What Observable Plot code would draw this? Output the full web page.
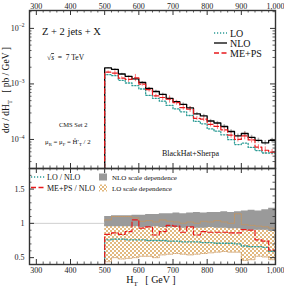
<!DOCTYPE html>
<html><head><meta charset="utf-8">
<script src="https://cdn.jsdelivr.net/npm/d3@7"></script>
<script src="https://cdn.jsdelivr.net/npm/@observablehq/plot@0.6"></script>
<style>
body{margin:0;background:#fff;}
#wrap{position:relative;width:284px;height:287px;}
#wrap svg{display:block;overflow:visible;}
</style></head><body><div id="wrap"></div>
<script>
// ---- data ----
const binLow = [500,520,540,560,580,600,620,640,660,680,700,720,740,760,780,800,820,840,860,880,900,920,940,960,980];
const binWidth = 20;
const nlo  = [1.94e-3,1.83e-3,1.51e-3,1.37e-3,1.23e-3,1.06e-3,8.3e-4,7.3e-4,6.5e-4,5.5e-4,4.8e-4,4.3e-4,3.7e-4,2.9e-4,2.65e-4,2.15e-4,1.98e-4,1.71e-4,1.39e-4,1.16e-4,1.28e-4,1.09e-4,9.6e-5,8.7e-5,9.6e-5];
const lo   = [1.47e-3,1.41e-3,1.16e-3,1.04e-3,9.3e-4,8.1e-4,6.2e-4,5.5e-4,4.9e-4,4.1e-4,3.55e-4,3.14e-4,2.7e-4,2.12e-4,1.91e-4,1.55e-4,1.41e-4,1.21e-4,9.9e-5,8.1e-5,8.6e-5,7.2e-5,6.3e-5,5.7e-5,5.7e-5];
const meps = [1.63e-3,1.57e-3,1.27e-3,1.21e-3,1.29e-3,9.9e-4,7.9e-4,6.1e-4,5.7e-4,5.3e-4,4.6e-4,3.74e-4,3.5e-4,2.4e-4,2.33e-4,1.87e-4,1.72e-4,1.49e-4,1.2e-4,1.0e-4,1.16e-4,9.8e-5,7.3e-5,6.4e-5,5.9e-5];
const nloRelErr  = [0.02,0.03,0.03,0.03,0.04,0.04,0.04,0.05,0.05,0.05,0.05,0.06,0.06,0.06,0.07,0.07,0.07,0.08,0.08,0.08,0.09,0.09,0.1,0.1,0.1];
const mepsRelErr = [0.05,0.1,0.06,0.12,0.15,0.08,0.1,0.07,0.12,0.15,0.1,0.1,0.12,0.08,0.1,0.1,0.12,0.1,0.12,0.1,0.15,0.12,0.1,0.15,0.12];
const ratioLO   = [0.76,0.77,0.77,0.76,0.76,0.76,0.75,0.75,0.75,0.74,0.74,0.73,0.73,0.73,0.72,0.72,0.71,0.71,0.71,0.70,0.67,0.66,0.66,0.65,0.59];
const ratioMEPS = [0.84,0.86,0.84,0.88,1.05,0.93,0.95,0.83,0.88,0.97,0.96,0.87,0.95,0.83,0.88,0.87,0.87,0.87,0.86,0.86,0.91,0.90,0.76,0.74,0.61];
const nloBandLow  = [0.95,0.95,0.95,0.95,0.95,0.94,0.94,0.95,0.94,0.94,0.94,0.93,0.94,0.93,0.93,0.94,0.93,0.93,0.92,0.92,0.90,0.90,0.90,0.90,0.88];
const nloBandHigh = [1.10,1.11,1.11,1.11,1.12,1.12,1.13,1.13,1.14,1.14,1.15,1.14,1.15,1.16,1.15,1.16,1.16,1.17,1.16,1.17,1.18,1.19,1.18,1.20,1.22];
const loBandLow   = [0.44,0.50,0.48,0.49,0.50,0.52,0.52,0.50,0.54,0.55,0.56,0.55,0.54,0.55,0.56,0.57,0.58,0.59,0.58,0.58,0.46,0.47,0.52,0.51,0.47];
const loBandHigh  = [1.05,1.10,1.10,1.10,1.08,1.03,1.04,1.02,1.05,1.03,1.02,1.00,1.02,1.00,1.03,1.02,1.04,1.02,1.00,1.14,0.98,0.97,0.96,0.95,0.93];
const xTicks = [300,400,500,600,700,800,900,1000];
const yTicksTop = [1e-4,1e-3,1e-2];
const yTicksBottom = [0.5,1,1.5];

// ---- layout ----
const W = 284, topH = 168, botH = 119;
const mL = 29, mR = 9, mT = 10, mB = 23;
const pw = W - mL - mR, ph1 = topH - mT, ph2 = botH - mB;
const xDomain = [280, 1000];
const yTopDomain = [3e-5, 2.1e-2];
const yBotDomain = [0.4, 1.8];
const FONT = "Liberation Serif, DejaVu Serif, serif";
const FRAME = "#333";
const C_LO = "#2e9c96", C_MEPS = "#e8191c", C_NLO = "#000";

const xMinor = d3.range(280, 1001, 20).filter(v => v % 100 !== 0);
const yMinorTop = [];
for (let k = -5; k <= -2; k++) for (let m = 2; m <= 9; m++) {
  const v = m * Math.pow(10, k);
  if (v >= yTopDomain[0] && v <= yTopDomain[1]) yMinorTop.push(v);
}
const yMinorBot = d3.range(4, 19).map(v => v / 10).filter(v => ![0.5,1,1.5].includes(v));

function stepSeries(vals, base) {
  const pts = [{x: binLow[0], y: base}];
  binLow.forEach((x, i) => pts.push({x, y: vals[i]}));
  const end = binLow[binLow.length - 1] + binWidth;
  pts.push({x: end, y: vals[vals.length - 1]});
  pts.push({x: end, y: base});
  return pts;
}
function bandSeries(low, high) {
  const pts = binLow.map((x, i) => ({x, lo: low[i], hi: high[i]}));
  pts.push({x: binLow[binLow.length - 1] + binWidth, lo: low[low.length - 1], hi: high[high.length - 1]});
  return pts;
}
function tickMarks(ph, yMaj, yMin) {
  const m = [];
  m.push(Plot.ruleX(xTicks, {stroke: FRAME, strokeWidth: 1, insetBottom: ph - 5}));
  m.push(Plot.ruleX(xMinor, {stroke: FRAME, strokeWidth: 0.8, insetBottom: ph - 2.5}));
  m.push(Plot.ruleX(xTicks, {stroke: FRAME, strokeWidth: 1, insetTop: ph - 5}));
  m.push(Plot.ruleX(xMinor, {stroke: FRAME, strokeWidth: 0.8, insetTop: ph - 2.5}));
  m.push(Plot.ruleY(yMaj, {stroke: FRAME, strokeWidth: 1, insetRight: pw - 5}));
  m.push(Plot.ruleY(yMin, {stroke: FRAME, strokeWidth: 0.8, insetRight: pw - 2.5}));
  m.push(Plot.ruleY(yMaj, {stroke: FRAME, strokeWidth: 1, insetLeft: pw - 5}));
  m.push(Plot.ruleY(yMin, {stroke: FRAME, strokeWidth: 0.8, insetLeft: pw - 2.5}));
  return m;
}

// ---- top panel ----
const errRows = binLow.map((x, i) => ({
  xc: x + binWidth / 2,
  n1: nlo[i] * (1 - nloRelErr[i]), n2: nlo[i] * (1 + nloRelErr[i]),
  m1: meps[i] * (1 - mepsRelErr[i]), m2: meps[i] * (1 + mepsRelErr[i])
}));
const base1 = yTopDomain[0];
const topSvg = Plot.plot({
  width: W, height: topH,
  marginLeft: mL, marginRight: mR, marginTop: mT, marginBottom: 0,
  style: {fontFamily: FONT, fontSize: "8px", color: "#222", background: "transparent"},
  x: {domain: xDomain, label: null},
  y: {type: "log", domain: yTopDomain, label: null},
  marks: [
    Plot.ruleX(errRows, {x: "xc", y1: "n1", y2: "n2", stroke: "#b5b5b5", strokeWidth: 1.6, clip: true}),
    Plot.ruleX(errRows, {x: "xc", y1: "m1", y2: "m2", stroke: "#ff7a7a", strokeWidth: 1, clip: true}),
    Plot.line(stepSeries(lo, base1), {x: "x", y: "y", curve: "step-after", stroke: C_LO, strokeWidth: 1.3, strokeDasharray: "1.2,1.8", clip: true}),
    Plot.line(stepSeries(nlo, base1), {x: "x", y: "y", curve: "step-after", stroke: C_NLO, strokeWidth: 1.3, clip: true}),
    Plot.line(stepSeries(meps, base1), {x: "x", y: "y", curve: "step-after", stroke: C_MEPS, strokeWidth: 1.2, strokeDasharray: "5,2.5", clip: true}),
    ...tickMarks(ph1, yTicksTop, yMinorTop),
    Plot.axisX(xTicks, {anchor: "top", tickSize: 0, tickPadding: 2, fontSize: 8}),
    Plot.axisY(yTicksTop, {anchor: "left", tickSize: 0, tickPadding: 5, fontSize: 8, tickFormat: d => "e" + Math.round(Math.log10(d))}),
    Plot.frame({stroke: FRAME, strokeWidth: 1.4})
  ]
});

// ---- bottom panel ----
const base2 = yBotDomain[0];
const loBand = bandSeries(loBandLow, loBandHigh);
const nloBand = bandSeries(nloBandLow, nloBandHigh);
const botSvg = Plot.plot({
  width: W, height: botH,
  marginLeft: mL, marginRight: mR, marginTop: 0, marginBottom: mB,
  style: {fontFamily: FONT, fontSize: "8px", color: "#222", background: "transparent"},
  x: {domain: xDomain, label: null},
  y: {domain: yBotDomain, label: null},
  marks: [
    Plot.ruleY([1], {stroke: "#cfcfcf", strokeWidth: 1}),
    Plot.areaY(loBand, {x: "x", y1: "lo", y2: "hi", curve: "step-after", fill: "url(#lochk)", clip: true}),
    Plot.areaY(nloBand, {x: "x", y1: "lo", y2: "hi", curve: "step-after", fill: "#9a9a9a", clip: true}),
    Plot.line(loBand, {x: "x", y: "hi", curve: "step-after", stroke: "#c9955a", strokeWidth: 0.8, strokeDasharray: "1,1", clip: true}),
    Plot.line(loBand, {x: "x", y: "lo", curve: "step-after", stroke: "#c9955a", strokeWidth: 0.8, strokeDasharray: "1,1", clip: true}),
    Plot.line(stepSeries(ratioLO, base2), {x: "x", y: "y", curve: "step-after", stroke: C_LO, strokeWidth: 1.3, strokeDasharray: "1.2,1.8", clip: true}),
    Plot.line(stepSeries(ratioMEPS, base2), {x: "x", y: "y", curve: "step-after", stroke: C_MEPS, strokeWidth: 1.2, strokeDasharray: "5,2.5", clip: true}),
    ...tickMarks(ph2, yTicksBottom, yMinorBot),
    Plot.axisX(xTicks, {anchor: "bottom", tickSize: 0, tickPadding: 3, fontSize: 8}),
    Plot.axisY(yTicksBottom, {anchor: "left", tickSize: 0, tickPadding: 5, fontSize: 8, tickFormat: d => String(d)}),
    Plot.frame({stroke: FRAME, strokeWidth: 1.4})
  ]
});

const wrap = document.getElementById("wrap");
wrap.appendChild(topSvg);
wrap.appendChild(botSvg);

// checker pattern for LO scale band
d3.select(botSvg).insert("defs", ":first-child").html(
  '<pattern id="lochk" width="4" height="4" patternUnits="userSpaceOnUse">' +
  '<rect width="4" height="4" fill="#fff"/><rect width="2" height="2" fill="#e2b97f"/>' +
  '<rect x="2" y="2" width="2" height="2" fill="#e2b97f"/></pattern>');

// log tick labels as 10 with superscript exponent
d3.select(topSvg).selectAll('g[aria-label="y-axis tick label"] text').each(function() {
  const t = d3.select(this);
  const exp = t.text().replace("e", "").replace("-", "\u2212");
  t.text(null);
  t.append("tspan").text("10");
  t.append("tspan").attr("dy", -3.5).attr("font-size", 5.5).text(exp);
});

// rich text helper
function rich(svg, x, y, parts, size, attrs = {}) {
  const t = d3.select(svg).append("text").attr("x", x).attr("y", y)
    .attr("font-family", FONT).attr("font-size", size).attr("fill", "#111")
    .attr("text-anchor", "start");
  for (const k in attrs) t.attr(k, attrs[k]);
  let shift = 0;
  for (const p of parts) {
    const target = p.sub ? size * 0.3 : p.sup ? -size * 0.4 : 0;
    const s = t.append("tspan").text(p.t).attr("dy", target - shift);
    shift = target;
    if (p.sub || p.sup) s.attr("font-size", size * 0.7);
    if (p.i) s.attr("font-style", "italic");
    if (p.o) s.attr("text-decoration", "overline");
  }
  return t;
}

// top annotations
rich(topSvg, 42, 35, [{t: "Z + 2 jets + X"}], 10.5);
rich(topSvg, 47, 60, [{t: "\u221A"}, {t: "s", i: true, o: true}, {t: "  =  7 TeV"}], 7.5);
rich(topSvg, 59, 127, [{t: "CMS Set 2"}], 6.5);
rich(topSvg, 45, 144, [{t: "\u03BC"}, {t: "R", sub: true}, {t: " = \u03BC"}, {t: "F", sub: true}, {t: " = \u0124\u2032"}, {t: "T", sub: true}, {t: " / 2"}], 6.8);
rich(topSvg, 162, 156, [{t: "BlackHat+Sherpa"}], 8);
rich(topSvg, 9, 90, [{t: "d\u03C3 / dH"}, {t: "T", sub: true}, {t: "   [ pb / GeV ]"}], 9.5,
  {"text-anchor": "middle", transform: "rotate(-90 9 90)"});

// top legend
const topLeg = [["LO", C_LO, "1.2,1.8"], ["NLO", C_NLO, null], ["ME+PS", C_MEPS, "5,2.5"]];
topLeg.forEach(([name, col, dash], i) => {
  const y = 33 + i * 10;
  const l = d3.select(topSvg).append("line").attr("x1", 214).attr("x2", 227).attr("y1", y).attr("y2", y)
    .attr("stroke", col).attr("stroke-width", 1.3);
  if (dash) l.attr("stroke-dasharray", dash);
  rich(topSvg, 230, y + 3.5, [{t: name}], 10);
});

// bottom legend
const botLeg = [["LO / NLO", C_LO, "1.2,1.8"], ["ME+PS / NLO", C_MEPS, "5,2.5"]];
botLeg.forEach(([name, col, dash], i) => {
  const y = 9 + i * 10.5;
  d3.select(botSvg).append("line").attr("x1", 31).attr("x2", 45).attr("y1", y).attr("y2", y)
    .attr("stroke", col).attr("stroke-width", 1.3).attr("stroke-dasharray", dash);
  rich(botSvg, 47, y + 3, [{t: name}], 8);
});
d3.select(botSvg).append("rect").attr("x", 99).attr("y", 5.5).attr("width", 8).attr("height", 7).attr("fill", "#9a9a9a");
rich(botSvg, 112, 11.5, [{t: "NLO scale dependence"}], 7);
d3.select(botSvg).append("rect").attr("x", 99).attr("y", 16.5).attr("width", 8).attr("height", 7).attr("fill", "url(#lochk)");
rich(botSvg, 112, 22.5, [{t: "LO scale dependence"}], 7);
// x label
rich(botSvg, 151, 115, [{t: "H"}, {t: "T", sub: true}, {t: "   [ GeV ]"}], 10, {"text-anchor": "middle"});
</script>
</body></html>
